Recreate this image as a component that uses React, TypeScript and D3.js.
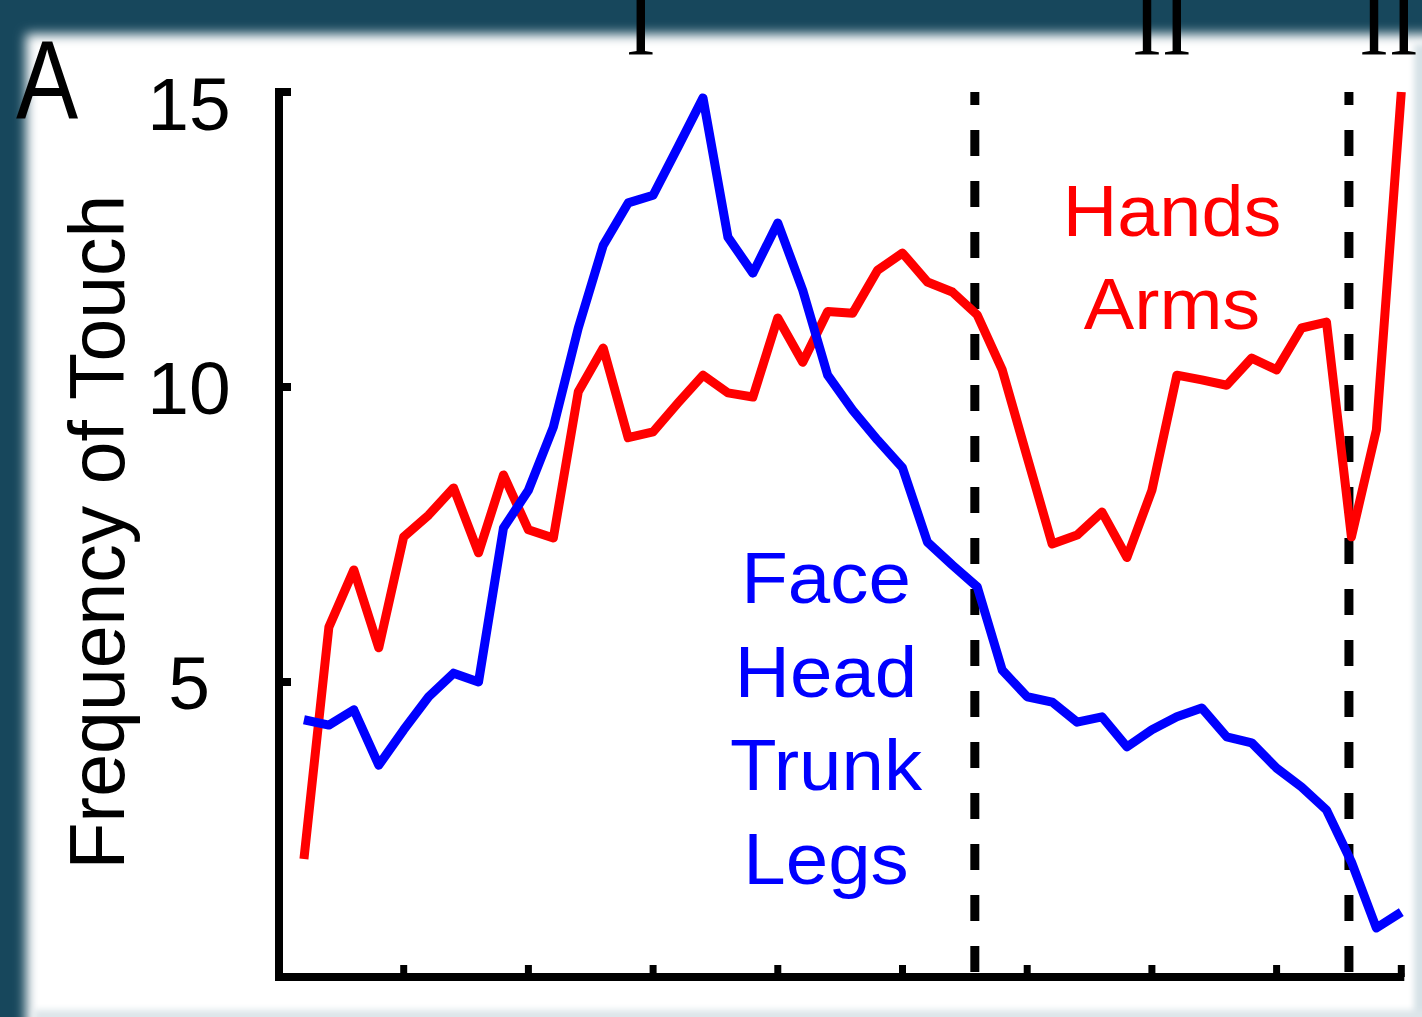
import React from 'react';
import * as d3 from 'd3';

const sampleIndex = [1,2,3,4,5,6,7,8,9,10,11,12,13,14,15,16,17,18,19,20,21,22,23,24,25,26,27,28,29,30,31,32,33,34,35,36,37,38,39,40,41,42,43,44,45];
const faceHeadTrunkLegs = [4.36,4.27,4.53,3.59,4.19,4.75,5.15,5.0,7.61,8.25,9.32,11.0,12.4,13.12,13.25,14.07,14.9,12.54,11.93,12.78,11.64,10.2,9.61,9.1,8.63,7.37,6.98,6.61,5.2,4.75,4.66,4.32,4.41,3.9,4.19,4.41,4.56,4.07,3.97,3.54,3.22,2.83,1.95,0.83,1.1];
const handsArms = [2.0,5.93,6.9,5.58,7.46,7.83,8.29,7.19,8.51,7.58,7.44,9.92,10.66,9.14,9.24,9.73,10.2,9.9,9.83,11.17,10.42,11.28,11.25,11.98,12.27,11.78,11.61,11.22,10.29,8.81,7.34,7.49,7.88,7.11,8.25,10.2,10.12,10.03,10.49,10.29,11.0,11.1,7.46,9.27,15.0];
const yTicks = [5, 10, 15];
const xTicks = [5, 10, 15, 20, 25, 30, 35, 40, 45];
const phaseBoundaries = [27.9, 42.9];
const phaseLabels = [{ text: 'I', x: 14.5, anchor: 'middle' }, { text: 'II', x: 35.4, anchor: 'middle' }, { text: 'III', x: 43.3, anchor: 'start' }];
const blueLabel = ['Face', 'Head', 'Trunk', 'Legs'];
const redLabel = ['Hands', 'Arms'];

export default function App() {
  const W = 1422, H = 1017;
  const x = d3.scaleLinear().domain([0, 45]).range([279, 1401.3]);
  const y = d3.scaleLinear().domain([0, 15]).range([977, 92]);
  const line = d3.line<number>().x((_, i) => x(sampleIndex[i])).y(d => y(d));
  const sans = '"Liberation Sans", Arial, Helvetica, sans-serif';
  const serif = '"Liberation Serif", "Times New Roman", serif';
  return (
    <svg width={W} height={H} style={{ position: 'absolute', left: 0, top: 0 }}>
      <defs>
        <filter id="soft" x="-5%" y="-5%" width="110%" height="110%">
          <feGaussianBlur stdDeviation="6" />
        </filter>
        <filter id="soft2" x="-50%" y="-50%" width="200%" height="200%">
          <feGaussianBlur stdDeviation="3" />
        </filter>
      </defs>
      <rect x={0} y={0} width={W} height={H} fill="#17475c" />
      <rect x={26} y={34} width={1420} height={1010} fill="#ffffff" filter="url(#soft)" />
      <rect x={1414} y={44} width={20} height={990} fill="#d6e1e6" filter="url(#soft2)" />
      <rect x={34} y={1010} width={1400} height={20} fill="#dce5e9" filter="url(#soft2)" />
      {/* phase labels */}
      {phaseLabels.map(p => (
        <text key={p.text} x={x(p.x)} y={55} fontFamily={serif} fontSize={90} textAnchor={p.anchor} fill="#000">{p.text}</text>
      ))}
      <text transform="translate(16,118) scale(0.88,1.05)" fontFamily={sans} fontSize={106} fill="#000">A</text>
      {/* axes */}
      <line x1={x(0)} x2={x(0)} y1={y(0)} y2={y(15) - 4} stroke="#000" strokeWidth={8} />
      <line x1={x(0) - 4} x2={x(45) + 3} y1={y(0)} y2={y(0)} stroke="#000" strokeWidth={8} />
      {yTicks.map(t => (
        <g key={t}>
          <line x1={x(0)} x2={x(0) + 12} y1={y(t)} y2={y(t)} stroke="#000" strokeWidth={8} />
          <text x={189} y={y(t) + (t === 15 ? 11 : 0)} dy="0.36em" fontFamily={sans} fontSize={75} textAnchor="middle" fill="#000">{t}</text>
        </g>
      ))}
      {xTicks.map(t => (
        <line key={t} x1={x(t)} x2={x(t)} y1={y(0)} y2={y(0) - 12} stroke="#000" strokeWidth={7} />
      ))}
      <text transform={`translate(124, 532) rotate(-90)`} fontFamily={sans} fontSize={77} textAnchor="middle" fill="#000">Frequency of Touch</text>
      {/* dashed boundaries */}
      {phaseBoundaries.map(b => (
        <line key={b} x1={x(b)} x2={x(b)} y1={y(15)} y2={y(0)} stroke="#000" strokeWidth={9} strokeDasharray="26 25" strokeDashoffset={13} />
      ))}
      {/* series */}
      <path d={line(handsArms) || ''} fill="none" stroke="#ff0000" strokeWidth={9} strokeLinejoin="round" />
      <path d={line(faceHeadTrunkLegs) || ''} fill="none" stroke="#0000ff" strokeWidth={9} strokeLinejoin="round" />
      {/* labels */}
      {blueLabel.map((t, i) => (
        <text key={t} transform={`translate(826, ${603 + i * 93.5}) scale(1.06,1)`} fontFamily={sans} fontSize={72} textAnchor="middle" fill="#0000ff">{t}</text>
      ))}
      {redLabel.map((t, i) => (
        <text key={t} transform={`translate(1172, ${236 + i * 93}) scale(1.05,1)`} fontFamily={sans} fontSize={72} textAnchor="middle" fill="#ff0000">{t}</text>
      ))}
    </svg>
  );
}
